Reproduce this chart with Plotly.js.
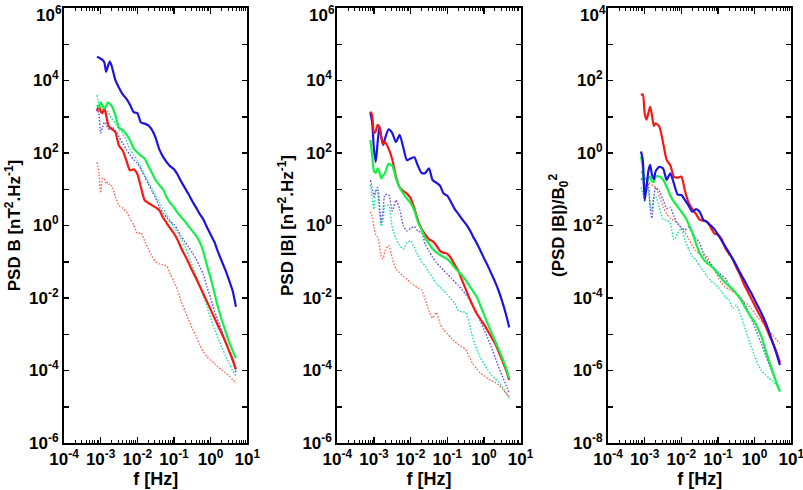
<!DOCTYPE html>
<html>
<head>
<meta charset="utf-8">
<script src="https://cdn.plot.ly/plotly-3.0.1.min.js"></script>
<style>html,body{margin:0;padding:0;background:#fff;}#chart{width:803px;height:490px;}</style>
</head>
<body>
<div id="chart"></div>
<script>
// Frequency grid (Hz) shared by every spectrum
const freq = [7.94e-4, 8.91e-4, 1.0e-3, 1.12e-3, 1.26e-3, 1.41e-3, 1.58e-3, 1.78e-3, 2.0e-3, 2.51e-3, 3.16e-3, 3.98e-3, 5.01e-3, 6.31e-3, 7.94e-3, 0.01, 0.0126, 0.0158, 0.02, 0.0251, 0.0316, 0.0398, 0.0501, 0.0631, 0.0794, 0.1, 0.126, 0.158, 0.2, 0.251, 0.316, 0.398, 0.501, 0.631, 0.794, 1.0, 1.26, 1.58, 2.0, 2.51, 3.16, 3.98, 4.9];

// Values are log10 of the plotted quantity
// Panel 1: PSD B
const psdB_blue_log10   = [4.66,4.63,4.60,4.57,4.50,4.24,4.40,4.52,4.40,4.02,3.80,3.62,3.50,3.33,3.13,3.10,2.84,2.81,2.76,2.64,2.42,2.10,1.90,1.75,1.63,1.55,1.40,1.21,1.03,0.86,0.67,0.50,0.32,0.17,-0.05,-0.25,-0.45,-0.72,-0.98,-1.22,-1.50,-1.80,-2.24];
const psdB_green_log10  = [3.32,3.25,3.40,3.30,3.22,3.30,3.40,3.36,3.30,3.05,2.70,2.63,2.52,2.35,2.13,2.02,1.92,1.85,1.64,1.45,1.25,1.12,1.00,0.78,0.62,0.50,0.35,0.23,0.11,-0.02,-0.15,-0.28,-0.45,-0.72,-1.10,-1.45,-1.85,-2.25,-2.60,-2.90,-3.20,-3.45,-3.66];
const psdB_red_log10    = [3.15,3.30,3.15,3.10,3.25,3.05,2.80,2.70,2.66,2.58,2.20,2.07,1.80,1.52,1.55,1.42,1.05,0.70,0.62,0.56,0.50,0.42,0.22,0.07,-0.08,-0.22,-0.40,-0.63,-0.83,-1.03,-1.25,-1.45,-1.67,-1.88,-2.10,-2.32,-2.54,-2.76,-2.98,-3.20,-3.45,-3.70,-3.97];
const psdB_purple_log10 = [3.25,3.10,2.55,2.70,2.85,2.80,2.68,2.65,2.72,2.62,2.45,2.27,2.10,1.95,1.82,1.72,1.55,1.35,1.15,0.95,0.75,0.52,0.35,0.22,0.10,0.03,-0.12,-0.30,-0.45,-0.60,-0.75,-0.92,-1.12,-1.35,-1.70,-2.00,-2.35,-2.60,-2.90,-3.18,-3.45,-3.75,-4.05];
const psdB_cyan_log10   = [3.60,3.35,3.25,3.35,3.20,3.10,3.15,3.05,2.95,2.82,2.65,2.55,2.35,2.10,1.95,1.80,1.60,1.40,1.20,1.02,0.82,0.64,0.48,0.30,0.12,-0.05,-0.20,-0.38,-0.58,-0.82,-1.10,-1.38,-1.65,-1.95,-2.25,-2.55,-2.85,-3.10,-3.35,-3.58,-3.80,-4.00,-4.15];
const psdB_pink_log10   = [1.75,1.45,0.90,1.30,1.30,1.15,1.20,1.10,1.10,0.80,0.55,0.48,0.38,0.20,0.02,-0.22,-0.20,-0.42,-0.65,-0.85,-1.00,-1.06,-1.08,-1.12,-1.35,-1.55,-1.80,-2.10,-2.36,-2.60,-2.85,-3.05,-3.28,-3.48,-3.62,-3.72,-3.80,-3.90,-3.98,-4.06,-4.15,-4.25,-4.35];

// Panel 2: PSD |B|
const psdMag_blue_log10   = [3.12,2.85,2.10,1.75,2.30,2.72,2.45,2.22,2.40,2.65,2.55,2.30,2.50,2.15,1.80,1.85,1.88,1.65,1.45,1.45,1.58,1.25,1.18,1.10,0.88,0.82,0.65,0.46,0.32,0.18,0.05,-0.10,-0.30,-0.48,-0.68,-0.90,-1.10,-1.32,-1.55,-1.80,-2.10,-2.45,-2.81];
const psdMag_red_log10    = [3.14,3.05,2.55,2.60,2.78,2.72,2.45,2.25,2.30,2.12,1.82,1.35,1.05,0.95,0.88,0.75,0.48,0.15,-0.10,-0.25,-0.38,-0.43,-0.55,-0.70,-0.75,-0.78,-0.90,-1.08,-1.25,-1.50,-1.75,-2.00,-2.22,-2.42,-2.58,-2.73,-2.90,-3.07,-3.25,-3.48,-3.73,-3.98,-4.26];
const psdMag_green_log10  = [2.36,1.95,1.50,1.45,1.58,1.48,1.30,1.38,1.45,1.70,1.65,1.30,1.05,0.88,0.74,0.62,0.42,0.10,-0.12,-0.35,-0.50,-0.65,-0.74,-0.81,-0.87,-0.93,-1.03,-1.16,-1.27,-1.37,-1.50,-1.66,-1.81,-1.96,-2.20,-2.46,-2.70,-2.94,-3.18,-3.41,-3.65,-3.92,-4.22];
const psdMag_purple_log10 = [1.25,1.05,0.80,0.95,1.05,0.60,0.05,0.45,0.85,0.85,0.40,0.70,0.45,0.00,-0.15,-0.08,-0.03,-0.15,-0.20,-0.52,-0.70,-0.88,-1.02,-1.13,-1.24,-1.34,-1.44,-1.55,-1.65,-1.76,-1.90,-2.03,-2.22,-2.42,-2.63,-2.86,-3.10,-3.35,-3.62,-3.90,-4.15,-4.40,-4.62];
const psdMag_cyan_log10   = [1.12,0.75,0.45,1.00,0.90,0.40,-0.02,0.15,0.55,0.55,-0.05,-0.35,-0.55,-0.65,-0.48,-0.42,-0.60,-0.82,-1.00,-1.12,-1.28,-1.45,-1.60,-1.70,-1.80,-1.90,-2.02,-2.13,-2.35,-2.38,-2.40,-2.70,-3.12,-3.40,-3.64,-3.82,-3.98,-4.12,-4.22,-4.32,-4.45,-4.62,-4.77];
const psdMag_pink_log10   = [0.38,0.26,-0.05,-0.25,-0.32,-0.55,-0.85,-0.92,-0.70,-0.55,-0.90,-1.20,-1.30,-1.40,-1.48,-1.58,-1.65,-1.72,-1.78,-2.05,-2.35,-2.55,-2.40,-2.70,-2.88,-2.98,-3.10,-3.20,-3.28,-3.35,-3.42,-3.62,-3.82,-3.95,-4.07,-4.14,-4.22,-4.28,-4.33,-4.40,-4.50,-4.62,-4.72];

// Panel 3: (PSD |B|)/B0^2
const norm_red_log10    = [1.60,1.62,1.10,0.92,1.10,1.27,1.05,0.75,0.82,0.73,0.30,-0.19,-0.34,-0.66,-0.68,-0.65,-1.05,-1.37,-1.55,-1.68,-1.84,-1.87,-1.90,-2.05,-2.22,-2.26,-2.38,-2.62,-2.78,-2.92,-3.15,-3.35,-3.60,-3.80,-4.00,-4.20,-4.40,-4.58,-4.78,-5.03,-5.25,-5.50,-5.78];
const norm_blue_log10   = [0.04,-0.20,-1.30,-0.95,-0.50,-0.33,-0.60,-0.72,-0.50,-0.38,-0.42,-0.74,-0.56,-0.85,-1.15,-1.16,-1.30,-1.45,-1.62,-1.55,-1.62,-1.84,-1.90,-2.00,-2.10,-2.25,-2.42,-2.58,-2.75,-2.92,-3.10,-3.30,-3.48,-3.67,-3.85,-4.05,-4.25,-4.45,-4.68,-4.95,-5.25,-5.55,-5.85];
const norm_green_log10  = [-0.10,-0.40,-1.00,-0.90,-0.70,-0.65,-0.78,-0.80,-0.65,-0.65,-0.73,-0.93,-1.17,-1.35,-1.48,-1.62,-1.76,-1.96,-2.20,-2.50,-2.76,-2.92,-3.03,-3.11,-3.21,-3.33,-3.46,-3.58,-3.67,-3.76,-3.88,-4.01,-4.18,-4.36,-4.52,-4.66,-4.86,-5.10,-5.45,-5.75,-6.05,-6.35,-6.58];
const norm_purple_log10 = [-0.74,-0.68,-1.10,-1.00,-0.84,-1.50,-1.80,-1.20,-0.95,-1.05,-1.28,-1.53,-1.50,-1.75,-1.95,-2.05,-2.12,-2.05,-2.20,-2.35,-2.48,-2.75,-2.95,-3.05,-3.18,-3.28,-3.38,-3.45,-3.65,-3.78,-3.88,-3.96,-4.12,-4.30,-4.55,-4.80,-5.05,-5.30,-5.58,-5.85,-6.10,-6.35,-6.58];
const norm_cyan_log10   = [-0.95,-1.10,-1.35,-0.80,-1.05,-1.40,-1.60,-1.25,-1.20,-1.50,-1.82,-1.85,-1.95,-2.40,-2.22,-2.08,-2.40,-2.65,-2.85,-2.95,-3.12,-3.25,-3.40,-3.52,-3.60,-3.70,-3.82,-3.98,-4.05,-4.28,-4.20,-4.42,-4.72,-5.02,-5.32,-5.60,-5.85,-6.02,-6.12,-6.22,-6.30,-6.42,-6.58];
const norm_pink_log10   = [-0.55,-0.50,-0.65,-0.75,-0.78,-0.84,-0.88,-0.92,-0.95,-1.20,-1.48,-1.68,-1.80,-1.86,-1.94,-2.08,-2.20,-2.36,-2.55,-2.70,-2.78,-2.82,-2.86,-3.05,-3.22,-3.42,-3.58,-3.70,-3.76,-3.82,-3.88,-3.98,-4.10,-4.17,-4.28,-4.42,-4.55,-4.66,-4.78,-4.92,-5.03,-5.15,-5.25];

// Tick labels and titles
const xTickVals = [1e-4, 1e-3, 1e-2, 1e-1, 1, 10];
const xTickText = ['10<sup>-4</sup>','10<sup>-3</sup>','10<sup>-2</sup>','10<sup>-1</sup>','10<sup>0</sup>','10<sup>1</sup>'];
const yLabelExpA = [-6,-4,-2,0,2,4];      // labelled decades (10^6 drawn as annotation)
const yOddExpA   = [-5,-3,-1,1,3,5];      // unlabelled decade ticks
const yTopExpA   = 6;
const yLabelExpB = [-8,-6,-4,-2,0,2];
const yOddExpB   = [-7,-5,-3,-1,1,3];
const yTopExpB   = 4;
const yTitles = ['PSD B [nT<sup>2</sup>.Hz<sup>-1</sup>]', 'PSD |B| [nT<sup>2</sup>.Hz<sup>-1</sup>]', '(PSD |B|)/B<sub>0</sub><sup>2</sup>'];
const xTitle = 'f [Hz]';

const styles = {
  blue:   {color:'rgb(30,20,225)',  width:2.2, dash:'solid'},
  red:    {color:'rgb(245,25,20)',  width:2.2, dash:'solid'},
  green:  {color:'rgb(20,240,70)',  width:2.2, dash:'solid'},
  purple: {color:'rgb(105,80,215)', width:1.4, dash:'1.6px,1.6px'},
  cyan:   {color:'rgb(30,225,170)', width:1.4, dash:'1.6px,1.6px'},
  pink:   {color:'rgb(245,110,90)', width:1.4, dash:'1.6px,1.6px'}
};

const panels = [
  {xa:'x',  ya:'y',  series:[['pink',psdB_pink_log10],['cyan',psdB_cyan_log10],['purple',psdB_purple_log10],['red',psdB_red_log10],['green',psdB_green_log10],['blue',psdB_blue_log10]]},
  {xa:'x2', ya:'y2', series:[['pink',psdMag_pink_log10],['cyan',psdMag_cyan_log10],['purple',psdMag_purple_log10],['blue',psdMag_blue_log10],['red',psdMag_red_log10],['green',psdMag_green_log10]]},
  {xa:'x3', ya:'y3', series:[['pink',norm_pink_log10],['cyan',norm_cyan_log10],['purple',norm_purple_log10],['green',norm_green_log10],['red',norm_red_log10],['blue',norm_blue_log10]]}
];

const traces = [];
panels.forEach(p => {
  p.series.forEach(([name, vals]) => {
    traces.push({
      type:'scatter', mode:'lines', x:freq, y:vals.map(v => Math.pow(10, v)),
      xaxis:p.xa, yaxis:p.ya, line:Object.assign({shape:'spline', smoothing:0.6}, styles[name]),
      hoverinfo:'skip', showlegend:false
    });
  });
});
// empty traces so the mirror (top/right) axes of each panel get drawn
[['x4','y4'],['x5','y5'],['x6','y6']].forEach(([xa, ya]) => {
  traces.push({type:'scatter', mode:'lines', x:[], y:[], xaxis:xa, yaxis:ya, hoverinfo:'skip', showlegend:false});
});

const W = 803, H = 490;
const family = '"Liberation Sans", Arial, sans-serif';
const tickFont = {family:family, size:17, color:'#000', weight:'bold'};
const xTitleFont = {family:family, size:18, color:'#000', weight:'bold'};
const yTitleFont = {family:family, size:17, color:'#000', weight:'bold'};
const minorX = [];
for (let d = -4; d < 1; d++) for (let m = 2; m <= 9; m++) minorX.push(m * Math.pow(10, d));

const pxX = [[64, 247.3], [337.3, 520.6], [608, 791.3]];
const pxY = [8, 443];

function xBase(i) {
  return {
    type:'log', range:[-4, 1], domain:[pxX[i][0] / W, pxX[i][1] / W],
    showline:true, linecolor:'#000', linewidth:2,
    ticks:'inside', ticklen:6, tickwidth:1.5, tickcolor:'#000',
    tickmode:'array', tickvals:xTickVals,
    minor:{tickmode:'array', tickvals:minorX, ticks:'inside', ticklen:3, tickwidth:1, tickcolor:'#000', showgrid:false},
    showgrid:false, zeroline:false, automargin:false, fixedrange:true
  };
}
function yBase(labelExps, oddExps, topExp) {
  const lo = labelExps[0];
  return {
    type:'log', range:[lo, topExp], domain:[(H - pxY[1]) / H, (H - pxY[0]) / H],
    showline:true, linecolor:'#000', linewidth:2,
    ticks:'inside', ticklen:5, tickwidth:1.5, tickcolor:'#000',
    tickmode:'array', tickvals:labelExps.map(e => Math.pow(10, e)),
    minor:{tickmode:'array', tickvals:oddExps.concat([topExp]).map(e => Math.pow(10, e)), ticks:'inside', ticklen:5, tickwidth:1.5, tickcolor:'#000', showgrid:false},
    showgrid:false, zeroline:false, automargin:false, fixedrange:true
  };
}
function xMain(i, anchor) {
  return Object.assign(xBase(i), {
    anchor:anchor, side:'bottom', ticktext:xTickText, tickfont:tickFont, ticklabeloverflow:'allow',
    title:{text:xTitle, font:xTitleFont, standoff:2}
  });
}
function xMirror(i, anchor, over) {
  return Object.assign(xBase(i), {anchor:anchor, overlaying:over, side:'top', showticklabels:false});
}
function yMain(labelExps, oddExps, topExp, anchor, title) {
  return Object.assign(yBase(labelExps, oddExps, topExp), {
    anchor:anchor, side:'left',
    ticktext:labelExps.map(e => '10<sup>' + e + '</sup>'),
    tickfont:tickFont, ticklabeloverflow:'allow',
    title:{text:title, font:yTitleFont, standoff:4}
  });
}
function yMirror(labelExps, oddExps, topExp, anchor, over) {
  return Object.assign(yBase(labelExps, oddExps, topExp), {anchor:anchor, overlaying:over, side:'right', showticklabels:false});
}

// the top label of each y axis sits a little lower than its tick, as in the original
const topLabels = [['x', yTopExpA], ['x2', yTopExpA], ['x3', yTopExpB]].map(([xa, e]) => ({
  xref:xa + ' domain', x:0, xanchor:'right', xshift:-1,
  yref:'paper', y:1, yanchor:'top', yshift:-2,
  text:'10<sup>' + e + '</sup>', showarrow:false, font:tickFont, borderpad:0
}));

const layout = {
  width:W, height:H, margin:{l:0, r:0, t:0, b:0},
  paper_bgcolor:'#fff', plot_bgcolor:'rgba(0,0,0,0)', showlegend:false,
  xaxis:xMain(0, 'y'),  xaxis2:xMain(1, 'y2'), xaxis3:xMain(2, 'y3'),
  yaxis:yMain(yLabelExpA, yOddExpA, yTopExpA, 'x', yTitles[0]),
  yaxis2:yMain(yLabelExpA, yOddExpA, yTopExpA, 'x2', yTitles[1]),
  yaxis3:yMain(yLabelExpB, yOddExpB, yTopExpB, 'x3', yTitles[2]),
  xaxis4:xMirror(0, 'y', 'x'), xaxis5:xMirror(1, 'y2', 'x2'), xaxis6:xMirror(2, 'y3', 'x3'),
  yaxis4:yMirror(yLabelExpA, yOddExpA, yTopExpA, 'x', 'y'),
  yaxis5:yMirror(yLabelExpA, yOddExpA, yTopExpA, 'x2', 'y2'),
  yaxis6:yMirror(yLabelExpB, yOddExpB, yTopExpB, 'x3', 'y3'),
  annotations:topLabels
};

Plotly.newPlot('chart', traces, layout, {staticPlot:true, displayModeBar:false});
</script>
</body>
</html>
